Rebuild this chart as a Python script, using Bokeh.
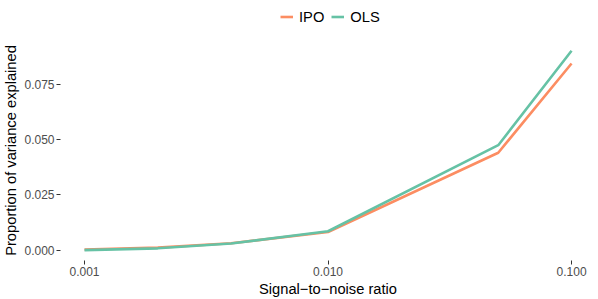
from bokeh.plotting import figure
from bokeh.layouts import column
from bokeh.models import FixedTicker, PrintfTickFormatter, Legend, LegendItem, Range1d
from bokeh.embed import file_html
from bokeh.resources import INLINE

# Data
snr = [0.001, 0.002, 0.004, 0.01, 0.05, 0.1]
ipo = [0.0004, 0.0012, 0.0032, 0.0083, 0.0441, 0.0844]
ols = [0.0001, 0.0009, 0.0031, 0.0086, 0.0475, 0.0902]
series_names = ["IPO", "OLS"]
series_colors = ["#FC8D62", "#66C2A5"]
x_ticks = [0.001, 0.01, 0.1]
y_ticks = [0.0, 0.025, 0.05, 0.075]

FONT = "Liberation Sans"
LINE_W = 2.6

# ---- legend strip on top (its plot area only hosts the legend) ----
lg = figure(width=598, height=40, x_range=Range1d(0, 1), y_range=Range1d(0, 1),
            output_backend="svg", toolbar_location=None,
            x_axis_location=None, y_axis_location=None,
            min_border_left=0, min_border_right=0, min_border_top=0, min_border_bottom=0)
lg.outline_line_color = None
lg.xgrid.visible = False
lg.ygrid.visible = False
# legend keys: drawn outside the visible range, so only their legend swatches show
d1 = lg.line([5, 6], [5, 6], line_color=series_colors[0], line_width=LINE_W)
d2 = lg.line([5, 6], [5, 6], line_color=series_colors[1], line_width=LINE_W)
legend = Legend(items=[LegendItem(label=series_names[0], renderers=[d1]),
                       LegendItem(label=series_names[1], renderers=[d2])],
                orientation="horizontal", location=(220, 15),
                border_line_color=None, background_fill_alpha=0,
                label_text_font=FONT, label_text_font_size="14.7px",
                label_text_color="black",
                glyph_width=13, glyph_height=17, label_standoff=6,
                spacing=7, padding=0, margin=0, label_height=17)
lg.add_layout(legend, "center")

# ---- main chart ----
p = figure(width=598, height=259, x_axis_type="log",
           x_range=Range1d(0.000797, 0.1254), y_range=Range1d(-0.0046, 0.0948),
           output_backend="svg", toolbar_location=None,
           min_border_left=59, min_border_right=3, min_border_top=0, min_border_bottom=38)
p.outline_line_color = None
p.xgrid.visible = False
p.ygrid.visible = False
p.background_fill_color = "white"
p.border_fill_color = "white"

r1 = p.line(snr, ipo, line_color=series_colors[0], line_width=LINE_W)
r2 = p.line(snr, ols, line_color=series_colors[1], line_width=LINE_W)

for ax in (p.xaxis[0], p.yaxis[0]):
    ax.axis_line_color = None
    ax.major_tick_in = 0
    ax.major_tick_out = 4
    ax.major_tick_line_color = "#333333"
    ax.minor_tick_line_color = None
    ax.major_label_text_font = FONT
    ax.major_label_text_font_size = "12px"
    ax.major_label_text_color = "#4D4D4D"
    ax.major_label_standoff = 2
    ax.axis_label_text_font = FONT
    ax.axis_label_text_font_size = "14.7px"
    ax.axis_label_text_font_style = "normal"
    ax.axis_label_text_color = "black"
    ax.axis_label_standoff = 2
    ax.formatter = PrintfTickFormatter(format="%.3f")

p.xaxis[0].ticker = FixedTicker(ticks=x_ticks)
p.yaxis[0].ticker = FixedTicker(ticks=y_ticks)
p.xaxis[0].axis_label = "Signal\u2212to\u2212noise ratio"
p.yaxis[0].axis_label = "Proportion of variance explained"

layout = column(lg, p, spacing=0)
open("out.html", "w").write(file_html(layout, INLINE))
